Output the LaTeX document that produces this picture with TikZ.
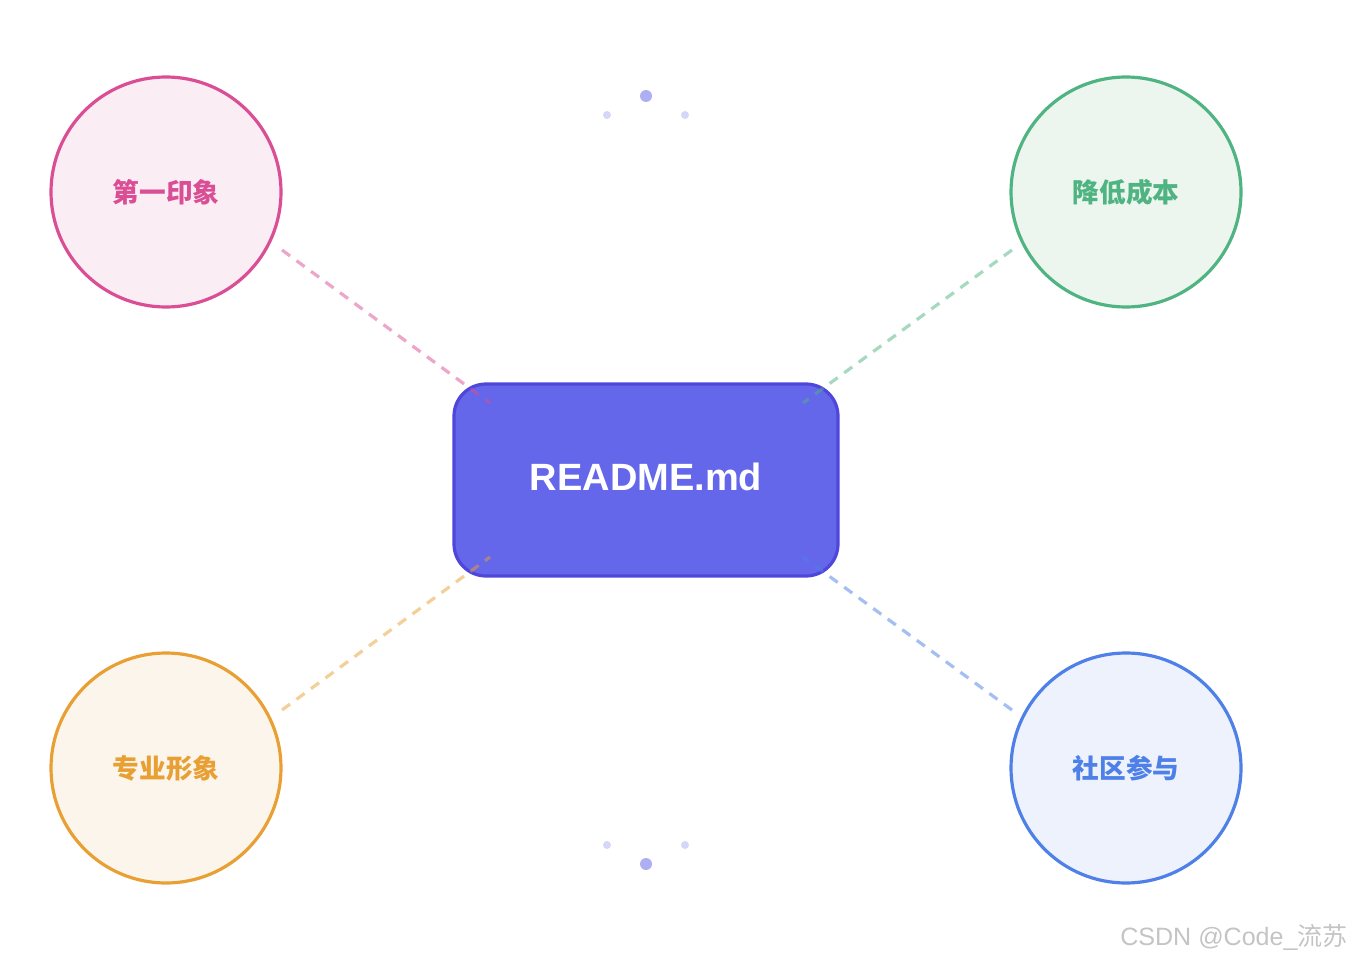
\documentclass[tikz,border=0pt]{standalone}
\usepackage{fontspec}
\setmainfont{Liberation Sans}
\newfontfamily\cjk{Noto Sans CJK SC}
\definecolor{pinkS}{HTML}{D94E94}
\definecolor{pinkF}{HTML}{FAEDF4}
\definecolor{greenS}{HTML}{4FB382}
\definecolor{greenF}{HTML}{ECF6EF}
\definecolor{orangeS}{HTML}{E8A035}
\definecolor{orangeF}{HTML}{FCF5EC}
\definecolor{blueS}{HTML}{4E80E8}
\definecolor{blueF}{HTML}{EDF2FC}
\definecolor{boxF}{HTML}{6467E9}
\definecolor{boxS}{HTML}{4F46DC}
\definecolor{dotBig}{HTML}{ADAFF3}
\definecolor{dotSmall}{HTML}{D5D6F8}
\definecolor{wm}{HTML}{C4C4C4}
\tikzset{
  topic/.style={circle, minimum size=230*0.75pt, inner sep=0pt, line width=2.4pt, font=\cjk\bfseries\fontsize{20}{22}\selectfont},
  link/.style={line width=2.4pt, dash pattern=on 7.5pt off 6pt, opacity=0.5},
  center/.style={rounded corners=24pt, fill=boxF, draw=boxS, line width=2.4pt, minimum width=384*0.75pt, minimum height=192*0.75pt, inner sep=0pt},
  title/.style={text=white, inner sep=0pt, font=\bfseries\fontsize{28.5}{32}\selectfont},
}
\begin{document}
\begin{tikzpicture}[x=0.75pt, y=-0.75pt]
\useasboundingbox (0,0) rectangle (1352,959);
\node[topic, draw=pinkS, fill=pinkF, text=pinkS] (c1) at (166,192) {第一印象};
\node[topic, draw=greenS, fill=greenF, text=greenS] (c2) at (1126,192) {降低成本};
\node[topic, draw=orangeS, fill=orangeF, text=orangeS] (c3) at (166,768) {专业形象};
\node[topic, draw=blueS, fill=blueF, text=blueS] (c4) at (1126,768) {社区参与};
\node[center] (box) at (646,480) {};
\node[title] (boxt) at (646,477) {README.md};
\coordinate (s1) at (282,250); \coordinate (e1) at (490,403);
\coordinate (s2) at (1012,250); \coordinate (e2) at (803,403);
\coordinate (s3) at (282,710); \coordinate (e3) at (490,557);
\coordinate (s4) at (1012,710); \coordinate (e4) at (803,557);
\draw[link, draw=pinkS] (s1) -- (e1);
\draw[link, draw=greenS] (s2) -- (e2);
\draw[link, draw=orangeS] (s3) -- (e3);
\draw[link, draw=blueS] (s4) -- (e4);
\fill[dotBig] (646,96) circle (6);
\fill[dotSmall] (607,115) circle (4);
\fill[dotSmall] (685,115) circle (4);
\fill[dotBig] (646,864) circle (6);
\fill[dotSmall] (607,845) circle (4);
\fill[dotSmall] (685,845) circle (4);
\node[anchor=base east, inner sep=0pt, text=wm, font=\fontsize{18.8}{20}\selectfont] (wmk) at (1348,945) {CSDN @Code\_{\cjk 流苏}};
\end{tikzpicture}
\end{document}
